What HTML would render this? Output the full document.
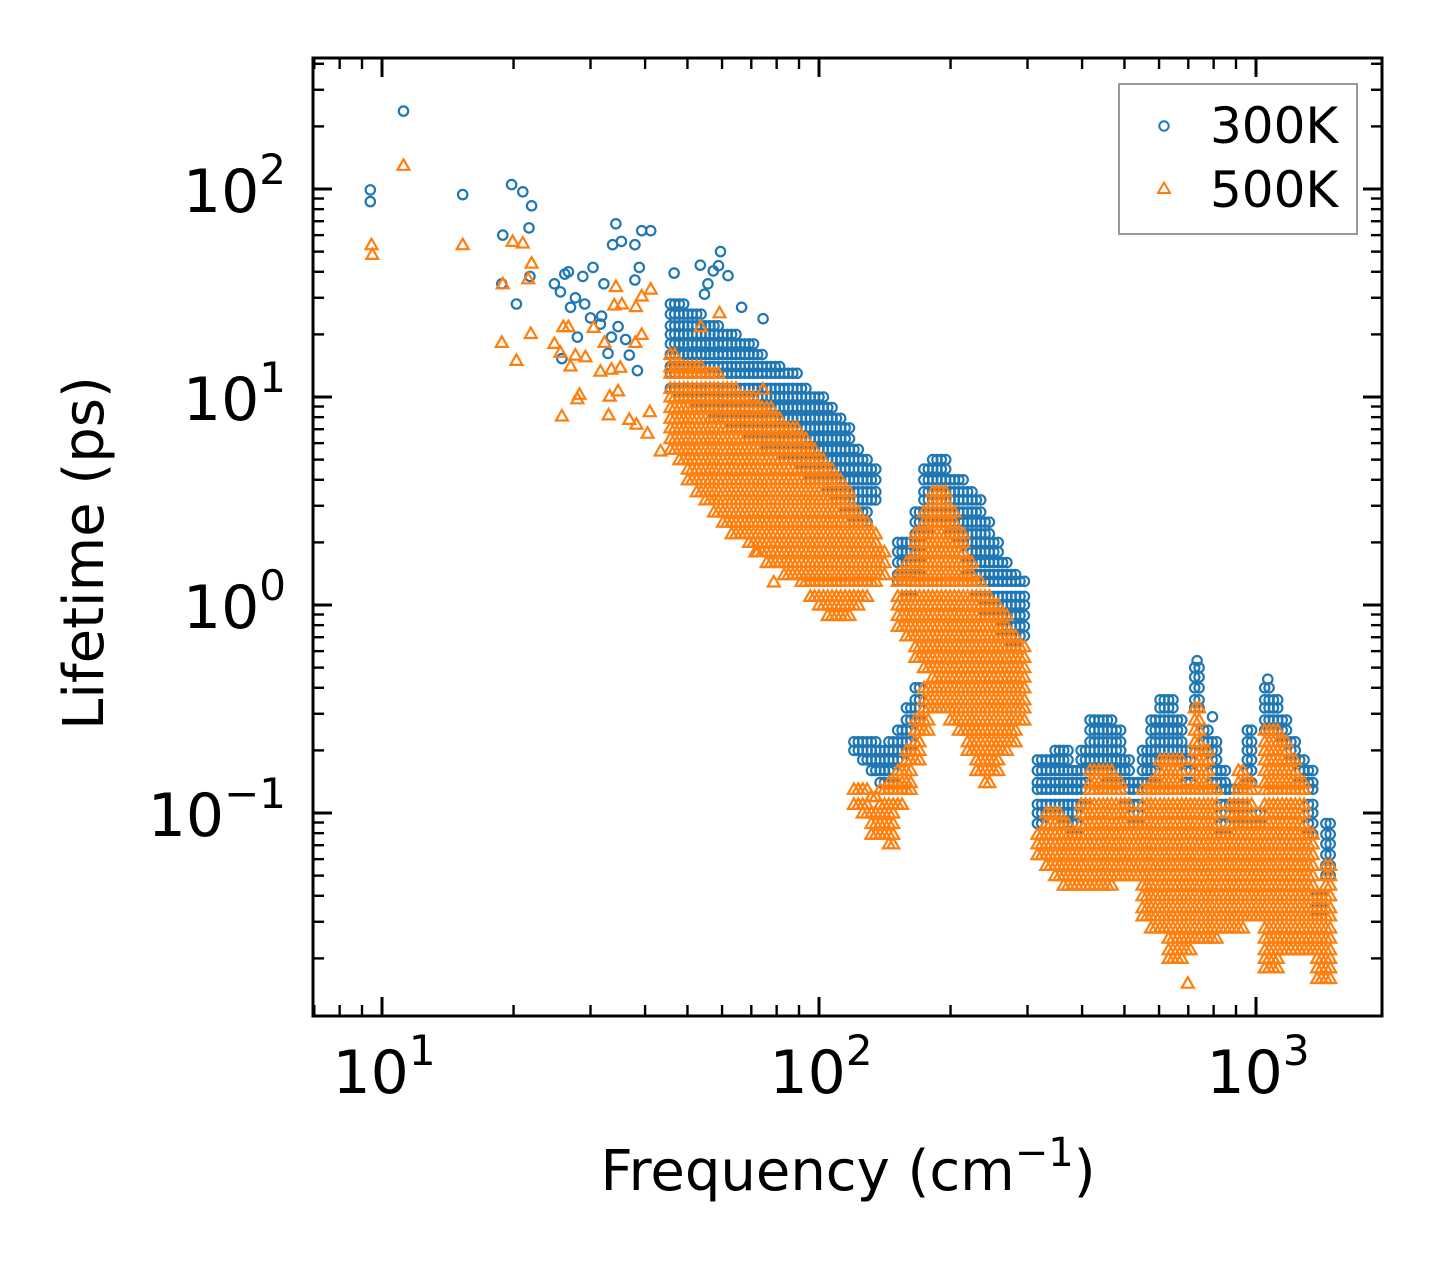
<!DOCTYPE html>
<html><head><meta charset="utf-8"><style>
html,body{margin:0;padding:0;background:#fff}
svg{display:block}
text{font-family:"DejaVu Sans","Liberation Sans",sans-serif;fill:#000}
</style></head><body>
<svg id="chart" width="1442" height="1265" viewBox="0 0 1442 1265" xmlns="http://www.w3.org/2000/svg">
<rect x="0" y="0" width="1442" height="1265" fill="#fff"/>
<g id="marks300"></g>
<g id="marks500"></g>
<g id="ticks"></g>
<rect x="313" y="58" width="1069" height="958" fill="none" stroke="#000" stroke-width="3"/>
<g id="labels"></g>
<text x="848" y="1190" font-size="56" text-anchor="middle">Frequency (cm<tspan font-size="40" dy="-24">−1</tspan><tspan dy="24">)</tspan></text>
<text transform="translate(103,553) rotate(-90)" font-size="56" text-anchor="middle">Lifetime (ps)</text>
<g>
<rect x="1119" y="84" width="238" height="150" fill="#fff" stroke="#9a9a9a" stroke-width="2"/>
<circle cx="1164" cy="126" r="4.7" fill="none" stroke="#1f77b4" stroke-width="2"/>
<text x="1210" y="143" font-size="50">300K</text>
<path d="M1164,182.5 L1170,193 L1158,193 Z" fill="none" stroke="#ff7f0e" stroke-width="2"/>
<text x="1210" y="207" font-size="50">500K</text>
</g>
</svg>
<script>
// ---- data: 300K columns (frequency, lifetimes) ----
const colF300=[45.7,47.9,50.1,52.5,55.0,57.5,60.3,63.1,66.1,69.2,72.4,75.9,79.4,83.2,87.1,91.2,95.5,100,104.7,109.6,114.8,120.2,125.9,131.8,138,144.5,151.4,158.5,166,173.8,182,190.5,199.5,208.9,218.8,229.1,239.9,251.2,263,275.4,288.4,316,331,347,363,380,398,417,437,457,479,501,525,550,575,603,631,661,692,724,759,794,832,871,912,955,1000,1047,1096,1148,1202,1259,1318,1380,1445];
const colT300=[
[28,25,22,20,18,16,14,13,11],[28,25,22,20,18,16,14,13,11,10],[25,22,20,18,16,14,13,11,10],[25,22,20,18,16,14,13,11,10,8.9],
[22,20,18,16,14,13,11,10,8.9],[22,20,18,16,14,13,11,10,8.9,7.9],[20,18,16,14,13,11,10,8.9,7.9],[20,18,16,14,13,11,10,8.9,7.9,7.1],
[18,16,14,13,11,10,8.9,7.9,7.1],[18,16,14,13,11,10,8.9,7.9,7.1,6.3],[16,14,13,11,10,8.9,7.9,7.1,6.3],[14,13,11,10,8.9,7.9,7.1,6.3,5.6],
[14,13,11,10,8.9,7.9,7.1,6.3,5.6],[13,11,10,8.9,7.9,7.1,6.3,5.6,5.0],[13,11,10,8.9,7.9,7.1,6.3,5.6,5.0],[11,10,8.9,7.9,7.1,6.3,5.6,5.0,4.5],
[10,8.9,7.9,7.1,6.3,5.6,5.0,4.5,4.0],[10,8.9,7.9,7.1,6.3,5.6,5.0,4.5,4.0],[8.9,7.9,7.1,6.3,5.6,5.0,4.5,4.0,3.5],[7.9,7.1,6.3,5.6,5.0,4.5,4.0,3.5,3.2],
[7.1,6.3,5.6,5.0,4.5,4.0,3.5,3.2,2.8],[5.6,5.0,4.5,4.0,3.5,3.2,2.8,2.5,0.22,0.20],[5.0,4.5,4.0,3.5,3.2,2.8,2.5,0.22,0.20,0.18],[4.5,4.0,3.5,3.2,0.22,0.20,0.18,0.16],
[0.20,0.18,0.16,0.14],[0.22,0.20,0.18,0.16,0.14],[2.0,1.8,1.6,1.4,1.3,0.25,0.22,0.20,0.18],[2.0,1.8,1.6,1.4,1.3,1.1,0.32,0.28,0.25,0.22,0.20],
[2.8,2.5,2.2,2.0,1.8,1.6,1.4,0.40,0.35,0.32,0.28],[4.5,4.0,3.5,3.2,2.8,2.5,2.2],[5.0,4.5,4.0,3.5,3.2,2.8,2.5],[5.0,4.5,4.0,3.5,3.2,2.8,2.5],
[4.0,3.5,3.2,2.8,2.5,2.2],[4.0,3.5,3.2,2.8,2.5,2.2,2.0],[3.5,3.2,2.8,2.5,2.2,2.0,1.8,1.6,1.4],[3.2,2.8,2.5,2.2,2.0,1.8,1.6,1.4,1.3,1.1],
[2.5,2.2,2.0,1.8,1.6,1.4,1.3,1.1,1.0,0.89],[2.0,1.8,1.6,1.4,1.3,1.1,1.0,0.89],[1.6,1.4,1.3,1.1,1.0,0.89,0.79,0.71],[1.4,1.3,1.1,1.0,0.89,0.79,0.71,0.63],
[1.3,1.1,1.0,0.89,0.79,0.71],
[0.18,0.16,0.14,0.13,0.11,0.10,0.089],[0.18,0.16,0.14,0.13,0.11,0.10],[0.20,0.18,0.16,0.14,0.13,0.11,0.10],[0.20,0.18,0.16,0.14,0.13,0.11,0.10,0.089],
[0.16,0.14,0.13,0.11,0.10,0.089,0.079],[0.20,0.18,0.16,0.14,0.13,0.11],[0.28,0.25,0.22,0.20,0.18,0.16],[0.28,0.25,0.22,0.20,0.18,0.16],
[0.28,0.25,0.22,0.20,0.18,0.16,0.14],[0.25,0.22,0.20,0.18,0.16,0.14],[0.18,0.16,0.14,0.13,0.11],[0.14,0.13,0.11,0.10,0.089],
[0.20,0.18,0.16,0.14,0.13],[0.28,0.25,0.22,0.20,0.18,0.16,0.14],[0.35,0.32,0.28,0.25,0.22,0.20,0.18],[0.35,0.32,0.28,0.25,0.22,0.20,0.18],
[0.28,0.25,0.22,0.20,0.18],[0.20,0.18,0.16,0.14,0.13],[0.50,0.45,0.40,0.35,0.32],[0.25,0.22,0.20],
[0.22,0.20,0.18,0.16,0.14,0.13],[0.16,0.14,0.13,0.11,0.10,0.089,0.079],[0.13,0.11],[0.13,0.11,0.10,0.089],
[0.25,0.22,0.20,0.18,0.16,0.14],[0.10,0.089],[0.40,0.35,0.32,0.28,0.25],[0.35,0.32,0.28,0.25],
[0.28,0.25,0.22],[0.22,0.20,0.18],[0.18,0.16,0.14],[0.16,0.14,0.13,0.11,0.10,0.089,0.079],
[0.040,0.035,0.032],[0.089,0.079,0.071,0.063,0.056,0.050]
];
// ---- 300K isolated points ----
const ptF300=[11.2,9.4,9.4,15.3,19.8,21.0,22.0,21.7,18.9,18.8,21.8,20.3,24.8,25.6,26.2,26.7,28.8,30.4,32.2,34.3,33.7,35.3,37.9,39.3,41.2,37.9,38.8,27,27.7,29.1,30,31.8,31.6,32.9,25.8,28,34.7,36.1,36.8,38.4,33.5,53.5,59.5,58.9,61.9,55.7,57.3,54.7,46.6,74.5,66.5,733,1064,795];
const ptT300=[237,99,87,94,105,97,83,65,60,35,38,28,35,32,39,40,38,42,35,68,54,56,54,63,63,36.5,42,27,30,28,24,24.5,22.4,16.2,15.3,19.4,21.8,18.9,15.9,13.4,19.4,43,50,42.8,38.3,35,40.4,31.2,39.4,23.8,27,0.54,0.44,0.29];
// ---- data: 500K columns ----
const colF500=[45.7,47.9,50.1,52.5,55.0,57.5,60.3,63.1,66.1,69.2,72.4,75.9,79.4,83.2,87.1,91.2,95.5,100,104.7,109.6,114.8,120.2,125.9,131.8,138,144.5,151.4,158.5,166,173.8,182,190.5,199.5,208.9,218.8,229.1,239.9,251.2,263,275.4,288.4,316,331,347,363,380,398,417,437,457,479,501,525,550,575,603,631,661,692,724,759,794,832,871,912,955,1000,1047,1096,1148,1202,1259,1318,1380,1445];
const colT500=[
[16,14,13,11,10,8.9,7.9,7.1,6.3,5.6],[14,13,11,10,8.9,7.9,7.1,6.3,5.6,5.0],[14,13,11,10,8.9,7.9,7.1,6.3,5.6,5.0,4.5,4.0],[14,13,11,10,8.9,7.9,7.1,6.3,5.6,5.0,4.5,4.0,3.5],
[13,11,10,8.9,7.9,7.1,6.3,5.6,5.0,4.5,4.0,3.5,3.2],[13,11,10,8.9,7.9,7.1,6.3,5.6,5.0,4.5,4.0,3.5,3.2,2.8],[11,10,8.9,7.9,7.1,6.3,5.6,5.0,4.5,4.0,3.5,3.2,2.8,2.5],[11,10,8.9,7.9,7.1,6.3,5.6,5.0,4.5,4.0,3.5,3.2,2.8,2.5,2.2],
[10,8.9,7.9,7.1,6.3,5.6,5.0,4.5,4.0,3.5,3.2,2.8,2.5,2.2],[10,8.9,7.9,7.1,6.3,5.6,5.0,4.5,4.0,3.5,3.2,2.8,2.5,2.2,2.0],[8.9,7.9,7.1,6.3,5.6,5.0,4.5,4.0,3.5,3.2,2.8,2.5,2.2,2.0,1.8],[8.9,7.9,7.1,6.3,5.6,5.0,4.5,4.0,3.5,3.2,2.8,2.5,2.2,2.0,1.8,1.6],
[7.9,7.1,6.3,5.6,5.0,4.5,4.0,3.5,3.2,2.8,2.5,2.2,2.0,1.8,1.6],[7.1,6.3,5.6,5.0,4.5,4.0,3.5,3.2,2.8,2.5,2.2,2.0,1.8,1.6,1.4],[7.1,6.3,5.6,5.0,4.5,4.0,3.5,3.2,2.8,2.5,2.2,2.0,1.8,1.6,1.4],[6.3,5.6,5.0,4.5,4.0,3.5,3.2,2.8,2.5,2.2,2.0,1.8,1.6,1.4,1.3],
[5.6,5.0,4.5,4.0,3.5,3.2,2.8,2.5,2.2,2.0,1.8,1.6,1.4,1.3,1.1],[5.0,4.5,4.0,3.5,3.2,2.8,2.5,2.2,2.0,1.8,1.6,1.4,1.3,1.1,1.0],[4.5,4.0,3.5,3.2,2.8,2.5,2.2,2.0,1.8,1.6,1.4,1.3,1.1,1.0,0.89],[4.0,3.5,3.2,2.8,2.5,2.2,2.0,1.8,1.6,1.4,1.3,1.1,1.0,0.89],
[3.5,3.2,2.8,2.5,2.2,2.0,1.8,1.6,1.4,1.3,1.1,1.0,0.89],[2.8,2.5,2.2,2.0,1.8,1.6,1.4,1.3,1.1,1.0,0.13,0.11],[2.5,2.2,2.0,1.8,1.6,1.4,1.3,1.1,0.13,0.11,0.10],[2.2,2.0,1.8,1.6,1.4,1.3,0.12,0.10,0.089,0.079],
[1.8,1.6,1.4,0.13,0.11,0.10,0.089,0.079],[0.14,0.13,0.11,0.10,0.089,0.079,0.071],[1.4,1.3,1.1,1.0,0.89,0.79,0.16,0.14,0.13,0.11],[1.6,1.4,1.3,1.1,1.0,0.89,0.79,0.71,0.20,0.18,0.16,0.14,0.13],
[2.2,2.0,1.8,1.6,1.4,1.3,1.1,1.0,0.89,0.79,0.71,0.63,0.56,0.28,0.25,0.22,0.20,0.18],
[2.8,2.5,2.2,2.0,1.8,1.6,1.4,1.3,1.1,1.0,0.89,0.79,0.71,0.63,0.56,0.50,0.40,0.35,0.32,0.28,0.25],
[3.5,3.2,2.8,2.5,2.2,2.0,1.8,1.6,1.4,1.3,1.1,1.0,0.89,0.79,0.71,0.63,0.56,0.50,0.45,0.40,0.35,0.32],
[3.5,3.2,2.8,2.5,2.2,2.0,1.8,1.6,1.4,1.3,1.1,1.0,0.89,0.79,0.71,0.63,0.56,0.50,0.45,0.40,0.35,0.32],
[2.8,2.5,2.2,2.0,1.8,1.6,1.4,1.3,1.1,1.0,0.89,0.79,0.71,0.63,0.56,0.50,0.45,0.40,0.35,0.32,0.28],
[2.2,2.0,1.8,1.6,1.4,1.3,1.1,1.0,0.89,0.79,0.71,0.63,0.56,0.50,0.45,0.40,0.35,0.32,0.28,0.25],
[1.6,1.4,1.3,1.1,1.0,0.89,0.79,0.71,0.63,0.56,0.50,0.45,0.40,0.35,0.32,0.28,0.25,0.22,0.20],
[1.3,1.1,1.0,0.89,0.79,0.71,0.63,0.56,0.50,0.45,0.40,0.35,0.32,0.28,0.25,0.22,0.20,0.18,0.16],
[1.1,1.0,0.89,0.79,0.71,0.63,0.56,0.50,0.45,0.40,0.35,0.32,0.28,0.25,0.22,0.20,0.18,0.16,0.14],
[1.0,0.89,0.79,0.71,0.63,0.56,0.50,0.45,0.40,0.35,0.32,0.28,0.25,0.22,0.20,0.18,0.16],
[0.89,0.79,0.71,0.63,0.56,0.50,0.45,0.40,0.35,0.32,0.28,0.25,0.22,0.20],
[0.71,0.63,0.56,0.50,0.45,0.40,0.35,0.32,0.28,0.25,0.22],
[0.63,0.56,0.50,0.45,0.40,0.35,0.32,0.28],
[0.079,0.071,0.063],[0.10,0.089,0.079,0.071,0.063,0.056],[0.10,0.089,0.079,0.071,0.063,0.056,0.050],[0.089,0.079,0.071,0.063,0.056,0.050,0.045],
[0.079,0.071,0.063,0.056,0.050,0.045],[0.11,0.10,0.089,0.079,0.071,0.063,0.056,0.050,0.045],
[0.16,0.14,0.13,0.11,0.10,0.089,0.079,0.071,0.063,0.056,0.050,0.045],[0.16,0.14,0.13,0.11,0.10,0.089,0.079,0.071,0.063,0.056,0.050,0.045],
[0.16,0.14,0.13,0.11,0.10,0.089,0.079,0.071,0.063,0.056,0.050,0.045],[0.14,0.13,0.11,0.10,0.089,0.079,0.071,0.063,0.056,0.050],
[0.11,0.10,0.089,0.079,0.071,0.063,0.056,0.050],[0.089,0.079,0.071,0.063,0.056,0.050],
[0.13,0.11,0.10,0.089,0.079,0.071,0.063,0.056,0.050,0.045,0.040,0.035,0.032],
[0.14,0.13,0.11,0.10,0.089,0.079,0.071,0.063,0.056,0.050,0.045,0.040,0.035,0.032,0.028],
[0.18,0.16,0.14,0.13,0.11,0.10,0.089,0.079,0.071,0.063,0.056,0.050,0.045,0.040,0.035,0.032,0.028],
[0.18,0.16,0.14,0.13,0.11,0.10,0.089,0.079,0.071,0.063,0.056,0.050,0.045,0.040,0.035,0.032,0.028,0.025,0.022,0.020],
[0.18,0.16,0.14,0.13,0.11,0.10,0.089,0.079,0.071,0.063,0.056,0.050,0.045,0.040,0.035,0.032,0.028,0.025,0.022,0.020],
[0.13,0.11,0.10,0.089,0.079,0.071,0.063,0.056,0.050,0.045,0.040,0.035,0.032,0.028,0.025,0.022],
[0.32,0.28,0.25,0.22,0.20,0.18,0.16,0.14,0.13,0.11,0.10,0.089,0.079,0.071,0.063,0.056,0.050,0.045,0.040,0.035,0.032,0.028,0.025],
[0.20,0.18,0.16,0.14,0.13,0.11,0.10,0.089,0.079,0.071,0.063,0.056,0.050,0.045,0.040,0.035,0.032,0.028,0.025],
[0.13,0.11,0.10,0.089,0.079,0.071,0.063,0.056,0.050,0.045,0.040,0.035,0.032,0.028,0.025],
[0.079,0.071,0.063,0.056,0.050,0.045,0.040,0.035,0.032,0.028],
[0.11,0.10,0.089,0.079,0.071,0.063,0.056,0.050,0.045,0.040,0.035,0.032,0.028],
[0.16,0.14,0.13,0.11,0.10,0.089,0.079,0.071,0.063,0.056,0.050,0.045,0.040,0.035,0.032,0.028],
[0.14,0.13,0.11,0.10,0.089,0.079,0.071,0.063,0.056,0.050,0.045,0.040,0.035,0.032],
[0.089,0.079,0.071,0.063,0.056,0.050,0.045,0.040,0.035,0.032],
[0.25,0.22,0.20,0.18,0.16,0.14,0.13,0.11,0.10,0.089,0.079,0.071,0.063,0.056,0.050,0.045,0.040,0.035,0.032,0.028,0.025,0.022,0.020,0.018],
[0.25,0.22,0.20,0.18,0.16,0.14,0.13,0.11,0.10,0.089,0.079,0.071,0.063,0.056,0.050,0.045,0.040,0.035,0.032,0.028,0.025,0.022,0.020,0.018],
[0.22,0.20,0.18,0.16,0.14,0.13,0.11,0.10,0.089,0.079,0.071,0.063,0.056,0.050,0.045,0.040,0.035,0.032,0.028,0.025,0.022],
[0.18,0.16,0.14,0.13,0.11,0.10,0.089,0.079,0.071,0.063,0.056,0.050,0.045,0.040,0.035,0.032,0.028,0.025,0.022],
[0.14,0.13,0.11,0.10,0.089,0.079,0.071,0.063,0.056,0.050,0.045,0.040,0.035,0.032,0.028,0.025,0.022],
[0.079,0.071,0.063,0.056,0.050,0.045,0.040,0.035,0.032,0.028,0.025,0.022],
[0.040,0.035,0.032,0.028,0.025,0.022,0.020,0.018,0.016],
[0.056,0.050,0.045,0.040,0.035,0.032,0.028,0.025,0.022,0.020,0.018,0.016]
];
// ---- 500K isolated points ----
const ptF500=[11.2,9.46,9.5,15.3,19.9,21,22,21.6,18.9,18.8,21.9,20.3,24.8,25.6,26,26.7,27.7,27,28.3,28,25.8,29.2,30.5,31.6,33.5,35.1,32.3,34.3,34,35.4,38.1,39.3,41.2,33.2,33,34.7,36.8,38.2,40.5,39.3,38,59.2,53.6,41,43.4,78.8,74.5,71.5,698];
const ptT500=[130,54,48.5,54,56,55,44,37,35,18.3,20.2,15,18.1,16.4,21.8,21.8,15.9,14.1,10.3,9.8,8.1,15.6,21.6,13.3,13.6,13.9,18.3,34,27.7,28,27.2,30.6,33,10.1,8.2,10.7,7.8,7.4,6.7,20,18.3,25.4,21.8,8.5,5.5,1.29,10.9,1.8,0.0152];
// ---- tick data ----
const xMajor=[10,100,1000];
const xMajorExp=["1","2","3"];
const yMajor=[100,10,1,0.1];
const yMajorExp=["2","1","0","−1"];

// axis functions
const X0=382, XD=437, Y0=189, YD=208;
const PL=313, PR=1382, PT=58, PB=1016;
function xS(f){return X0+XD*(Math.log10(f)-1);}
function yS(t){return Y0-YD*(Math.log10(t)-2);}
const NS='http://www.w3.org/2000/svg';
function mk(tag,attrs,parent){const e=document.createElementNS(NS,tag);for(const k in attrs)e.setAttribute(k,attrs[k]);parent.appendChild(e);return e;}

const g3=document.getElementById('marks300');
const g5=document.getElementById('marks500');
// dense columns are drawn with a small horizontal smear to mimic overlapping markers
function circ(f,t,dx){
  const c=mk('circle',{cx:(xS(f)+dx).toFixed(1),cy:yS(t).toFixed(1),r:4.7,fill:'none',stroke:'#1f77b4','stroke-width':2.2},g3);
  
  
}
function tri(f,t,dx){
  const x=xS(f)+dx,y=yS(t);
  const p=mk('path',{d:`M${x.toFixed(1)},${(y-6).toFixed(1)}L${(x+6).toFixed(1)},${(y+4.5).toFixed(1)}L${(x-6).toFixed(1)},${(y+4.5).toFixed(1)}Z`,fill:'none',stroke:'#ff7f0e','stroke-width':2.2},g5);
  
  
}
colF300.forEach((f,i)=>colT300[i].forEach(t=>{circ(f,t,0);circ(f,t,4.35);}));
ptF300.forEach((f,i)=>circ(f,ptT300[i],0));
colF500.forEach((f,i)=>colT500[i].forEach(t=>{tri(f,t,0);tri(f,t,4.35);}));
ptF500.forEach((f,i)=>tri(f,ptT500[i],0));

// ticks
const gt=document.getElementById('ticks');
function tick(x1,y1,x2,y2,w,name){
  const l=mk('line',{x1,y1,x2,y2,stroke:'#000','stroke-width':w},gt);
  
  
}
for(let e=0;e<=3;e++){for(let m=1;m<=9;m++){
  const v=m*Math.pow(10,e); const x=xS(v);
  if(x<PL+1||x>PR-1)continue;
  const L=(m===1)?19:11, w=(m===1)?3:2.4;
  tick(x,PB,x,PB-L,w,m===1?'x-major-tick':'x-minor-tick');
  tick(x,PT,x,PT+L,w,m===1?'x-major-tick':'x-minor-tick');
}}
for(let e=-2;e<=2;e++){for(let m=1;m<=9;m++){
  const v=m*Math.pow(10,e); const y=yS(v);
  if(y<PT+1||y>PB-1)continue;
  const L=(m===1)?19:11, w=(m===1)?3:2.4;
  tick(PL,y,PL+L,y,w,m===1?'y-major-tick':'y-minor-tick');
  tick(PR,y,PR-L,y,w,m===1?'y-major-tick':'y-minor-tick');
}}
// tick labels
const gl=document.getElementById('labels');
xMajor.forEach((v,i)=>{
  const t=mk('text',{x:xS(v)+2,y:1093,'font-size':60,'text-anchor':'middle'},gl);
  
  
  t.appendChild(document.createTextNode('10'));
  const s=mk('tspan',{'font-size':42,dy:-28},t); s.textContent=xMajorExp[i];
});
yMajor.forEach((v,i)=>{
  const t=mk('text',{x:286,y:yS(v)+23,'font-size':60,'text-anchor':'end'},gl);
  
  
  t.appendChild(document.createTextNode('10'));
  const s=mk('tspan',{'font-size':42,dy:-28},t); s.textContent=yMajorExp[i];
});
</script>
</body></html>
